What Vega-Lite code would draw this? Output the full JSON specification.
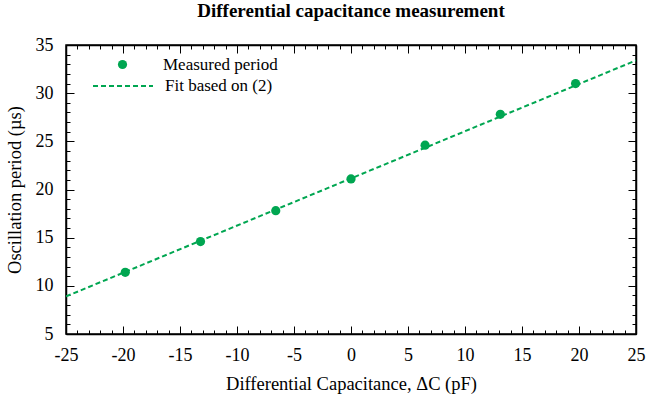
{
  "$schema": "https://vega.github.io/schema/vega-lite/v6.json",
  "width": 570,
  "height": 289,
  "autosize": {"type": "none"},
  "padding": {"left": 66, "top": 45, "right": 13, "bottom": 67},
  "background": "white",
  "title": {
    "text": "Differential capacitance measurement",
    "font": "Liberation Serif",
    "fontSize": 19,
    "fontWeight": "bold",
    "color": "black",
    "offset": 15
  },
  "config": {
    "view": {"stroke": "black", "strokeWidth": 1.5},
    "axis": {
      "grid": false,
      "domainColor": "black",
      "domainWidth": 1.5,
      "tickColor": "black",
      "tickWidth": 1,
      "labelFont": "Liberation Serif",
      "labelFontSize": 18,
      "labelColor": "black",
      "titleFont": "Liberation Serif",
      "titleFontSize": 18.5,
      "titleFontWeight": "normal",
      "titleColor": "black"
    },
    "legend": {
      "labelFont": "Liberation Serif",
      "labelFontSize": 17,
      "labelColor": "black"
    }
  },
  "datasets": {
    "measured": [
      {"dC": -19.8, "period": 11.4},
      {"dC": -13.2, "period": 14.6},
      {"dC": -6.6, "period": 17.8},
      {"dC": 0.0, "period": 21.1},
      {"dC": 6.5, "period": 24.6},
      {"dC": 13.1, "period": 27.8},
      {"dC": 19.7, "period": 31.0}
    ],
    "fit": [
      {"dC": -25, "period": 8.9},
      {"dC": 25, "period": 33.4}
    ]
  },
  "layer": [
    {
      "data": {"name": "fit"},
      "mark": {"type": "line", "color": "#00a651", "strokeWidth": 2, "clip": true},
      "encoding": {
        "x": {
          "field": "dC", "type": "quantitative",
          "scale": {"domain": [-25, 25], "nice": false, "zero": false},
          "axis": {
            "orient": "top", "labels": false, "title": null,
            "values": [-25,-24,-23,-22,-21,-20,-19,-18,-17,-16,-15,-14,-13,-12,-11,-10,-9,-8,-7,-6,-5,-4,-3,-2,-1,0,1,2,3,4,5,6,7,8,9,10,11,12,13,14,15,16,17,18,19,20,21,22,23,24,25],
            "tickSize": {"condition": {"test": "datum.value % 5 === 0", "value": -8}, "value": -4}
          }
        },
        "y": {
          "field": "period", "type": "quantitative",
          "scale": {"domain": [5, 35], "nice": false, "zero": false},
          "axis": {
            "orient": "right", "labels": false, "title": null,
            "values": [5,6,7,8,9,10,11,12,13,14,15,16,17,18,19,20,21,22,23,24,25,26,27,28,29,30,31,32,33,34,35],
            "tickSize": {"condition": {"test": "datum.value % 5 === 0", "value": -8}, "value": -4}
          }
        },
        "strokeDash": {
          "datum": "Fit based on (2)",
          "type": "nominal",
          "scale": {"range": [[5, 3]]},
          "legend": {
            "orient": "none", "legendX": 26, "legendY": 10, "title": null,
            "symbolType": "stroke", "symbolSize": 3600, "symbolStrokeWidth": 2,
            "symbolStrokeColor": "#00a651", "labelOffset": 11
          }
        }
      }
    },
    {
      "data": {"name": "measured"},
      "mark": {"type": "point", "filled": true, "color": "#00a651", "opacity": 1, "size": 85},
      "encoding": {
        "x": {
          "field": "dC", "type": "quantitative",
          "title": "Differential Capacitance, ΔC (pF)",
          "axis": {
            "orient": "bottom",
            "values": [-25,-24,-23,-22,-21,-20,-19,-18,-17,-16,-15,-14,-13,-12,-11,-10,-9,-8,-7,-6,-5,-4,-3,-2,-1,0,1,2,3,4,5,6,7,8,9,10,11,12,13,14,15,16,17,18,19,20,21,22,23,24,25],
            "labelExpr": "datum.value % 5 === 0 ? '' + datum.value : ''",
            "tickSize": {"condition": {"test": "datum.value % 5 === 0", "value": -8}, "value": -4},
            "labelPadding": 20,
            "labelFlush": false,
            "titleY": 49,
            "titleBaseline": "middle"
          }
        },
        "y": {
          "field": "period", "type": "quantitative",
          "title": "Oscillation period (µs)",
          "axis": {
            "orient": "left",
            "values": [5,6,7,8,9,10,11,12,13,14,15,16,17,18,19,20,21,22,23,24,25,26,27,28,29,30,31,32,33,34,35],
            "labelExpr": "datum.value % 5 === 0 ? '' + datum.value : ''",
            "tickSize": {"condition": {"test": "datum.value % 5 === 0", "value": -8}, "value": -4},
            "labelPadding": 21,
            "labelFlush": false,
            "titleX": -52,
            "titleBaseline": "middle"
          }
        },
        "shape": {
          "datum": "Measured period",
          "type": "nominal",
          "scale": {"range": ["circle"]},
          "legend": {
            "orient": "none", "legendX": 48, "legendY": 11, "title": null,
            "symbolSize": 85, "symbolFillColor": "#00a651", "symbolStrokeWidth": 0,
            "labelOffset": 32
          }
        }
      }
    }
  ],
  "resolve": {"axis": {"x": "independent", "y": "independent"}}
}
